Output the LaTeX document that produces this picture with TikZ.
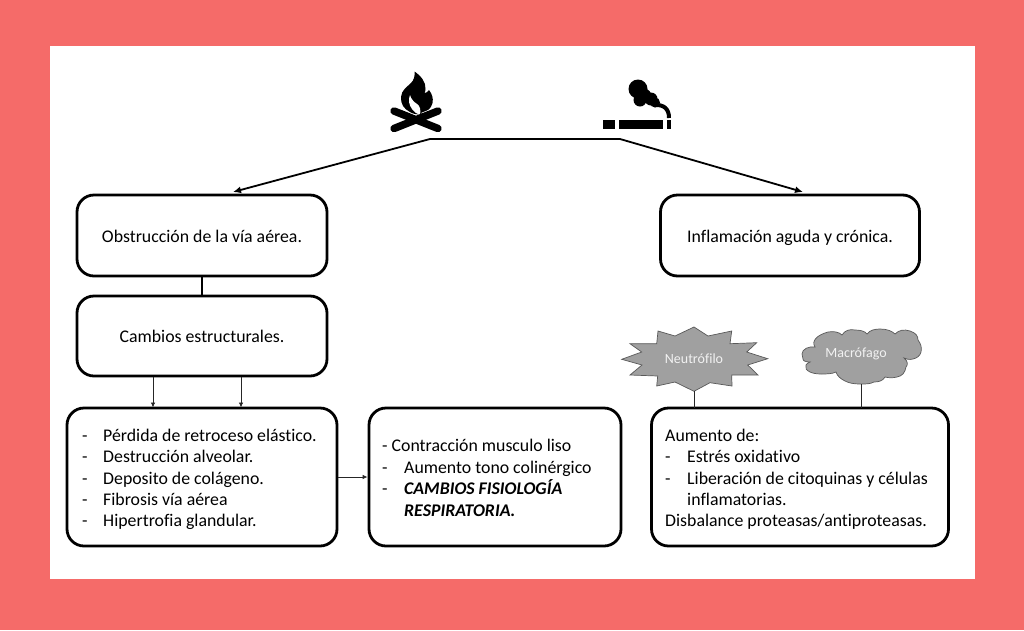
\documentclass[tikz,border=0pt]{standalone}
\usepackage{fontspec}
\setmainfont[Ligatures=NoCommon]{Carlito}
\usetikzlibrary{arrows.meta}
\definecolor{bgred}{HTML}{F56B69}
\definecolor{burstgray}{HTML}{A0A0A0}
\newcommand{\txtsize}{\fontsize{17.8}{21}\selectfont}
\tikzset{
 x=1pt,y=-1pt,
 box/.style={draw=black,line width=2.8pt,rounded corners=17pt},
 lbl/.style={font=\txtsize,text=black,inner sep=0pt,anchor=base west},
 bil/.style={font=\txtsize\bfseries\itshape,text=black,inner sep=0pt,anchor=base west},
 ctr/.style={font=\txtsize,text=black,inner sep=0pt,anchor=base},
 thin arrow/.style={draw=black!85,line width=0.8pt,-{Latex[length=5pt,width=4.5pt]}},
 big arrow/.style={draw=black,line width=1.8pt,-{Latex[length=8pt,width=7pt]}},
 link/.style={draw=black!85,line width=0.8pt},
 shapefill/.style={fill=burstgray,draw=black!65,line width=0.7pt},
 shapetext/.style={font=\fontsize{14}{16}\selectfont,text=white!90!gray,inner sep=0pt},
}
\begin{document}
\begin{tikzpicture}
\useasboundingbox (0,0) rectangle (1024,630);
\fill[bgred] (0,0) rectangle (1024,630);
\fill[white] (50,46) rectangle (975,579);

% boxes
\node[box,minimum width=250pt,minimum height=81pt] (obs) at (202,235.5) {};
\node[box,minimum width=259pt,minimum height=81pt] (inf) at (790,235.5) {};
\node[box,minimum width=250pt,minimum height=80pt] (cam) at (202,336) {};
\node[box,minimum width=270pt,minimum height=138pt] (per) at (202,477) {};
\node[box,minimum width=252pt,minimum height=138pt] (con) at (495,477) {};
\node[box,minimum width=297pt,minimum height=138pt] (aum) at (800,477) {};

\node[ctr] (obst) at (202,242) {Obstrucción de la vía aérea.};
\node[ctr] (inft) at (790,242) {Inflamación aguda y crónica.};
\node[ctr] (camt) at (202,342) {Cambios estructurales.};

% list 1
\node[lbl] (p0a) at (82,441) {-}; \node[lbl] (p1) at (103,441) {Pérdida de retroceso elástico.};
\node[lbl] (p0b) at (82,462) {-}; \node[lbl] (p2) at (103,462) {Destrucción alveolar.};
\node[lbl] (p0c) at (82,484) {-}; \node[lbl] (p3) at (103,484) {Deposito de colágeno.};
\node[lbl] (p0d) at (82,505) {-}; \node[lbl] (p4) at (103,505) {Fibrosis vía aérea};
\node[lbl] (p0e) at (82,526) {-}; \node[lbl] (p5) at (103,526) {Hipertrofia glandular.};

% list 2
\node[lbl] (c1) at (382,451) {- Contracción musculo liso};
\node[lbl] (c0b) at (382,473) {-}; \node[lbl] (c2) at (404,473) {Aumento tono colinérgico};
\node[lbl] (c0c) at (382,494) {-}; \node[bil] (c3) at (404,494) {CAMBIOS FISIOLOGÍA};
\node[bil] (c4) at (404,516) {RESPIRATORIA.};

% list 3
\node[lbl] (a1) at (665,441) {Aumento de:};
\node[lbl] (a0b) at (665,462) {-}; \node[lbl] (a2) at (687,462) {Estrés oxidativo};
\node[lbl] (a0c) at (665,484) {-}; \node[lbl] (a3) at (687,484) {Liberación de citoquinas y células};
\node[lbl] (a4) at (687,505) {inflamatorias.};
\node[lbl] (a5) at (665,526) {Disbalance proteasas/antiproteasas.};

% connectors
\coordinate (hubL) at (430,139);
\coordinate (hubR) at (620,139);
\coordinate (tipL) at (233,192);
\coordinate (tipR) at (803,192);
\draw[black,line width=1.8pt] (hubL) -- (hubR);
\draw[big arrow] (hubL) -- (tipL);
\draw[big arrow] (hubR) -- (tipR);
\draw[black,line width=2pt] (obs.south) -- (cam.north);
\coordinate (c1s) at (153,377); \coordinate (c1e) at (153,407.5);
\coordinate (c2s) at (241,377); \coordinate (c2e) at (241,407.5);
\draw[thin arrow] (c1s) -- (c1e);
\draw[thin arrow] (c2s) -- (c2e);
\draw[thin arrow] (per.east) -- (con.west);

% neutrophil burst
\draw[shapefill,line join=miter] (621.7,359.3) -- (641.7,352) -- (630,343.7) -- (656.7,343.7) -- (658,331) -- (675,336) -- (694,327) -- (708,336) -- (731.7,331) -- (730,343.7) -- (756.7,342.7) -- (746.7,352) -- (767.7,358.7) -- (747.7,365) -- (758,375) -- (731.7,375) -- (732,386) -- (710,382.7) -- (694,391.3) -- (675,382) -- (656.7,386) -- (657.7,376) -- (630,375) -- (642,365) -- cycle;
\node[shapetext] (neu) at (694,359) {Neutrófilo};
\coordinate (neuB) at (694,391.3);
\coordinate (aumA) at (694,408);
\draw[link] (neuB) -- (aumA);

% macrophage cloud
\draw[shapefill] (802,354)
 .. controls (802,349) and (809,346) .. (815,347)
 .. controls (811,341) and (817,335) .. (828,332)
 .. controls (834,331) and (839,332) .. (842,335)
 .. controls (845,330) and (850,329) .. (855,330)
 .. controls (860,330) and (865,331) .. (867,334)
 .. controls (870,330) and (875,329) .. (880,329)
 .. controls (887,329) and (892,331) .. (895,334)
 .. controls (899,330) and (904,329) .. (910,331)
 .. controls (916,333) and (918,336) .. (918,340)
 .. controls (921,344) and (922,348) .. (921,352)
 .. controls (920,356) and (917,358) .. (913,359)
 .. controls (909,360) and (906,359) .. (904,358)
 .. controls (908,361) and (908,365) .. (906,367)
 .. controls (905,373) and (902,376) .. (897,377)
 .. controls (893,378) and (889,378) .. (885,377)
 .. controls (883,381) and (878,382) .. (874,382)
 .. controls (870,384) and (866,384) .. (861,384)
 .. controls (853,384) and (849,383) .. (845,381)
 .. controls (841,379) and (837,376) .. (836,372)
 .. controls (832,374) and (826,374) .. (821,374)
 .. controls (816,374) and (812,373) .. (810,372)
 .. controls (806,370) and (805,368) .. (806,365)
 .. controls (806,364) and (808,363) .. (810,362)
 .. controls (806,362) and (803,361) .. (803,359)
 .. controls (802,357) and (802,356) .. (802,354) -- cycle;
\node[shapetext] (mac) at (856,354) {Macrófago};
\coordinate (macB) at (861,384);
\coordinate (aumB) at (861,408);
\draw[link] (macB) -- (aumB);

% campfire icon
\fill[black] (414.5,71.5)
 .. controls (421,76) and (426,82) .. (425.5,89)
 .. controls (425.5,91) and (425,92) .. (424.5,93)
 .. controls (426,93) and (428,92) .. (429,90)
 .. controls (432,94) and (433.5,98) .. (432.5,103)
 .. controls (431.5,108) and (427,112) .. (421,114)
 .. controls (418,115) and (413,114) .. (410,112)
 .. controls (404,109) and (400.5,104) .. (401,97)
 .. controls (401.5,90) and (407,87) .. (411,83)
 .. controls (414,80) and (415,76) .. (414.5,71.5) -- cycle;
\fill[white] (410,95)
 .. controls (408,100) and (409,105) .. (412,109)
 .. controls (414,112) and (417,114) .. (420,115)
 .. controls (421,110) and (420,106) .. (417,104)
 .. controls (414,102) and (411,99) .. (410,95) -- cycle;
\draw[white,line width=9pt] (423,117) -- (438,111);
\draw[black,line width=7.5pt,line cap=round] (394,128.5) -- (438,111);
\draw[black,line width=7.5pt,line cap=round] (394,111) -- (438,128.5);

% cigarette icon
\fill[black] (603,119.5) rectangle (615,128.5);
\fill[black] (619,119.5) rectangle (663,128.5);
\fill[black] (667,119.5) rectangle (671,128.5);
\fill[black] (638,89) circle (9.5pt);
\fill[black] (640,100) circle (6.5pt);
\fill[black] (651,99) circle (6.5pt);
\fill[black] (645,95) circle (6pt);
\fill[black] (655,102.5) circle (5pt);
\draw[black,line width=4pt] (655,105) .. controls (664,104.5) and (669,109) .. (669,118);
\end{tikzpicture}
\end{document}
